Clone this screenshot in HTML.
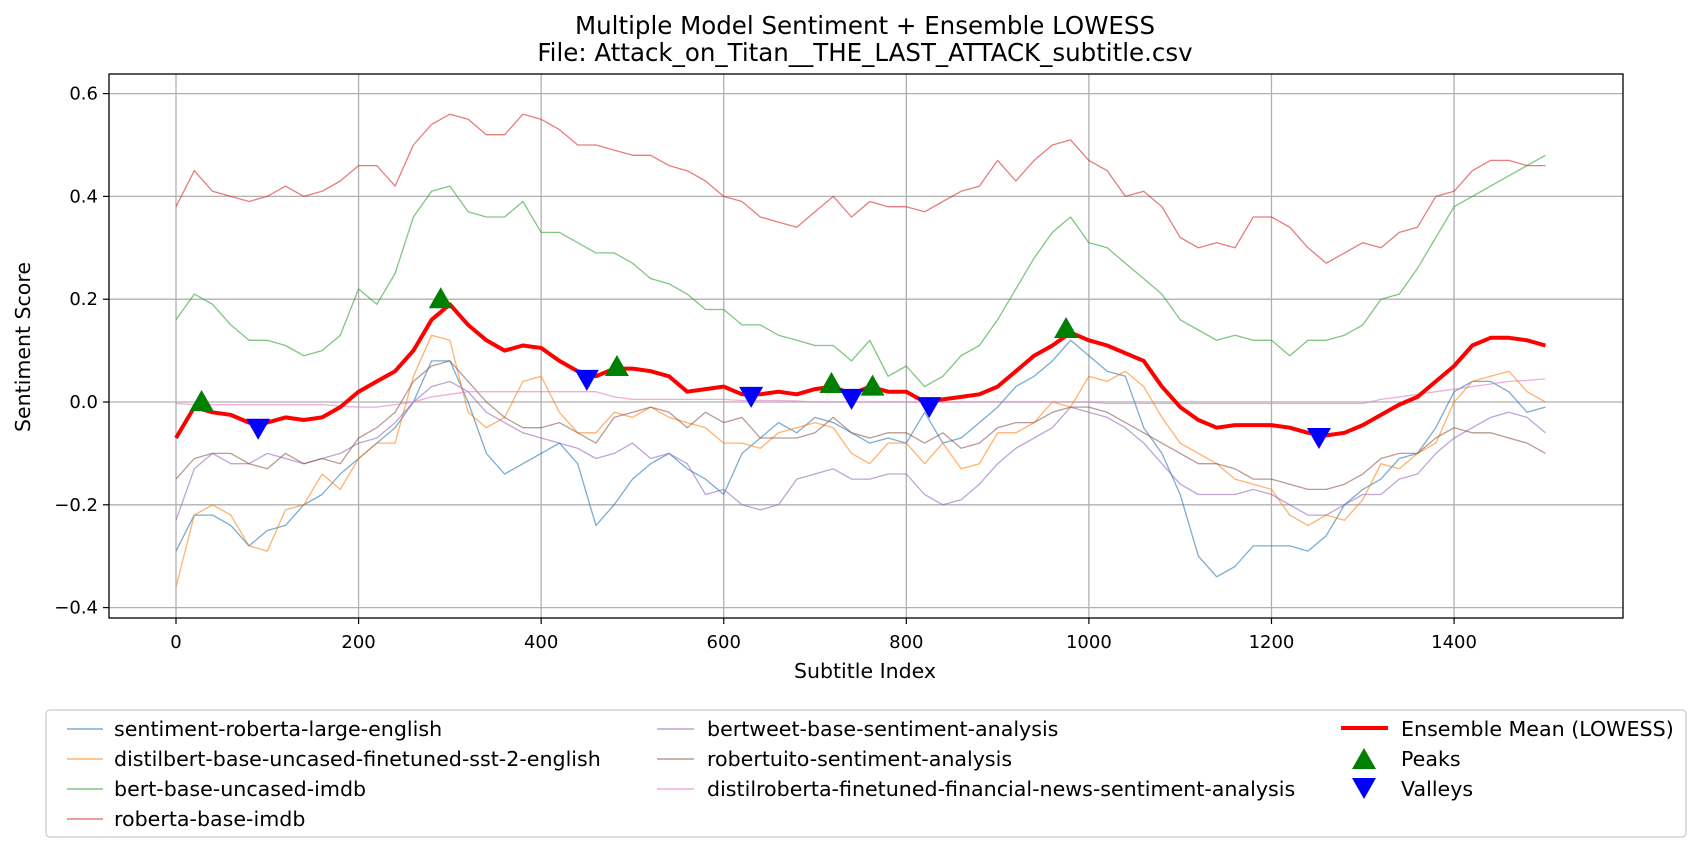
<!DOCTYPE html>
<html><head><meta charset="utf-8">
<style>
html,body{margin:0;padding:0;background:#fff;}
svg{display:block;font-family:"DejaVu Sans","Liberation Sans",sans-serif;}
</style></head>
<body>
<svg id="chart" width="1700" height="853" viewBox="0 0 1700 853" xmlns="http://www.w3.org/2000/svg">
  <text x="865" y="34" font-size="24.5" text-anchor="middle">Multiple Model Sentiment + Ensemble LOWESS</text>
  <text x="865" y="61" font-size="24.5" text-anchor="middle">File: Attack_on_Titan__THE_LAST_ATTACK_subtitle.csv</text>
  <g id="grid"></g>
  <g id="series"></g>
  <g id="markers"></g>
  <rect x="109" y="74" width="1514" height="544" fill="none" stroke="#000" stroke-width="1.3"/>
  <g id="ticks"></g>
  <text x="865" y="678" font-size="20.5" text-anchor="middle">Subtitle Index</text>
  <text x="0" y="0" font-size="20.5" text-anchor="middle" transform="translate(30,347) rotate(-90)">Sentiment Score</text>
  <g>
    <rect x="46" y="710" width="1640" height="127" rx="4" fill="#fff" stroke="#ccc" stroke-width="1.3"/>
    <g font-size="20.6">
      <line x1="67" y1="729" x2="103" y2="729" stroke="#1f77b4" stroke-opacity="0.6" stroke-width="1.5"/>
      <text x="114" y="736">sentiment-roberta-large-english</text>
      <line x1="67" y1="759" x2="103" y2="759" stroke="#ff7f0e" stroke-opacity="0.6" stroke-width="1.5"/>
      <text x="114" y="766">distilbert-base-uncased-finetuned-sst-2-english</text>
      <line x1="67" y1="789" x2="103" y2="789" stroke="#2ca02c" stroke-opacity="0.6" stroke-width="1.5"/>
      <text x="114" y="796">bert-base-uncased-imdb</text>
      <line x1="67" y1="819" x2="103" y2="819" stroke="#d62728" stroke-opacity="0.6" stroke-width="1.5"/>
      <text x="114" y="826">roberta-base-imdb</text>
      <line x1="657" y1="729" x2="694" y2="729" stroke="#9467bd" stroke-opacity="0.6" stroke-width="1.5"/>
      <text x="707" y="736">bertweet-base-sentiment-analysis</text>
      <line x1="657" y1="759" x2="694" y2="759" stroke="#8c564b" stroke-opacity="0.6" stroke-width="1.5"/>
      <text x="707" y="766">robertuito-sentiment-analysis</text>
      <line x1="657" y1="789" x2="694" y2="789" stroke="#e377c2" stroke-opacity="0.6" stroke-width="1.5"/>
      <text x="707" y="796">distilroberta-finetuned-financial-news-sentiment-analysis</text>
      <line x1="1341" y1="728" x2="1388" y2="728" stroke="#ff0000" stroke-width="4"/>
      <text x="1401" y="736">Ensemble Mean (LOWESS)</text>
      <polygon points="1364,748 1376,769 1352,769" fill="#008000"/>
      <text x="1401" y="766">Peaks</text>
      <polygon points="1352,778 1376,778 1364,799" fill="#0000ff"/>
      <text x="1401" y="796">Valleys</text>
    </g>
  </g>
</svg>
<script>
const xStep = 20;
const xTicks = [0, 200, 400, 600, 800, 1000, 1200, 1400];
const yTicks = [-0.4, -0.2, 0.0, 0.2, 0.4, 0.6];
const yTickLabels = ["\u22120.4", "\u22120.2", "0.0", "0.2", "0.4", "0.6"];
const seriesNames = ["roberta-base-imdb","bert-base-uncased-imdb","sentiment-roberta-large-english","distilbert-base-uncased-finetuned-sst-2-english","bertweet-base-sentiment-analysis","robertuito-sentiment-analysis","distilroberta-finetuned-financial-news-sentiment-analysis"];
const robertaImdb = [0.38,0.45,0.41,0.40,0.39,0.40,0.42,0.40,0.41,0.43,0.46,0.46,0.42,0.50,0.54,0.56,0.55,0.52,0.52,0.56,0.55,0.53,0.50,0.50,0.49,0.48,0.48,0.46,0.45,0.43,0.40,0.39,0.36,0.35,0.34,0.37,0.40,0.36,0.39,0.38,0.38,0.37,0.39,0.41,0.42,0.47,0.43,0.47,0.50,0.51,0.47,0.45,0.40,0.41,0.38,0.32,0.30,0.31,0.30,0.36,0.36,0.34,0.30,0.27,0.29,0.31,0.30,0.33,0.34,0.40,0.41,0.45,0.47,0.47,0.46,0.46];
const bertImdb = [0.16,0.21,0.19,0.15,0.12,0.12,0.11,0.09,0.10,0.13,0.22,0.19,0.25,0.36,0.41,0.42,0.37,0.36,0.36,0.39,0.33,0.33,0.31,0.29,0.29,0.27,0.24,0.23,0.21,0.18,0.18,0.15,0.15,0.13,0.12,0.11,0.11,0.08,0.12,0.05,0.07,0.03,0.05,0.09,0.11,0.16,0.22,0.28,0.33,0.36,0.31,0.30,0.27,0.24,0.21,0.16,0.14,0.12,0.13,0.12,0.12,0.09,0.12,0.12,0.13,0.15,0.20,0.21,0.26,0.32,0.38,0.40,0.42,0.44,0.46,0.48];
const robertaLarge = [-0.29,-0.22,-0.22,-0.24,-0.28,-0.25,-0.24,-0.20,-0.18,-0.14,-0.11,-0.08,-0.05,0.0,0.08,0.08,0.0,-0.10,-0.14,-0.12,-0.10,-0.08,-0.12,-0.24,-0.20,-0.15,-0.12,-0.10,-0.13,-0.15,-0.18,-0.10,-0.07,-0.04,-0.06,-0.03,-0.04,-0.06,-0.08,-0.07,-0.08,-0.02,-0.08,-0.07,-0.04,-0.01,0.03,0.05,0.08,0.12,0.09,0.06,0.05,-0.05,-0.10,-0.18,-0.30,-0.34,-0.32,-0.28,-0.28,-0.28,-0.29,-0.26,-0.20,-0.17,-0.15,-0.11,-0.10,-0.05,0.02,0.04,0.04,0.02,-0.02,-0.01];
const distilbert = [-0.36,-0.22,-0.20,-0.22,-0.28,-0.29,-0.21,-0.20,-0.14,-0.17,-0.11,-0.08,-0.08,0.05,0.13,0.12,-0.02,-0.05,-0.03,0.04,0.05,-0.02,-0.06,-0.06,-0.02,-0.03,-0.01,-0.03,-0.04,-0.05,-0.08,-0.08,-0.09,-0.06,-0.05,-0.04,-0.05,-0.10,-0.12,-0.08,-0.08,-0.12,-0.08,-0.13,-0.12,-0.06,-0.06,-0.04,0.0,-0.01,0.05,0.04,0.06,0.03,-0.03,-0.08,-0.10,-0.12,-0.15,-0.16,-0.17,-0.22,-0.24,-0.22,-0.23,-0.19,-0.12,-0.13,-0.10,-0.08,0.0,0.04,0.05,0.06,0.02,0.0];
const bertweet = [-0.23,-0.13,-0.10,-0.12,-0.12,-0.10,-0.11,-0.12,-0.11,-0.10,-0.08,-0.07,-0.04,0.0,0.03,0.04,0.02,-0.02,-0.04,-0.06,-0.07,-0.08,-0.09,-0.11,-0.10,-0.08,-0.11,-0.10,-0.12,-0.18,-0.17,-0.20,-0.21,-0.20,-0.15,-0.14,-0.13,-0.15,-0.15,-0.14,-0.14,-0.18,-0.20,-0.19,-0.16,-0.12,-0.09,-0.07,-0.05,-0.01,-0.02,-0.03,-0.05,-0.08,-0.12,-0.16,-0.18,-0.18,-0.18,-0.17,-0.18,-0.20,-0.22,-0.22,-0.20,-0.18,-0.18,-0.15,-0.14,-0.10,-0.07,-0.05,-0.03,-0.02,-0.03,-0.06];
const robertuito = [-0.15,-0.11,-0.10,-0.10,-0.12,-0.13,-0.10,-0.12,-0.11,-0.12,-0.07,-0.05,-0.02,0.04,0.07,0.08,0.04,0.0,-0.03,-0.05,-0.05,-0.04,-0.06,-0.08,-0.03,-0.02,-0.01,-0.02,-0.05,-0.02,-0.04,-0.03,-0.07,-0.07,-0.07,-0.06,-0.03,-0.06,-0.07,-0.06,-0.06,-0.08,-0.06,-0.09,-0.08,-0.05,-0.04,-0.04,-0.02,-0.01,-0.01,-0.02,-0.04,-0.06,-0.08,-0.10,-0.12,-0.12,-0.13,-0.15,-0.15,-0.16,-0.17,-0.17,-0.16,-0.14,-0.11,-0.10,-0.10,-0.07,-0.05,-0.06,-0.06,-0.07,-0.08,-0.10];
const financial = [-0.003,-0.005,-0.005,-0.005,-0.005,-0.005,-0.005,-0.005,-0.005,-0.008,-0.01,-0.01,-0.005,0.0,0.01,0.015,0.02,0.02,0.02,0.02,0.02,0.02,0.02,0.02,0.01,0.005,0.005,0.005,0.005,0.005,0.005,0.003,0.003,0.003,0.002,0.0,0.0,0.0,0.0,0.0,0.0,0.0,0.0,0.0,0.0,0.0,0.0,0.0,0.0,0.0,0.0,-0.003,-0.003,-0.003,-0.003,-0.003,-0.003,-0.003,-0.003,-0.003,-0.003,-0.003,-0.003,-0.003,-0.003,-0.003,0.005,0.01,0.015,0.02,0.025,0.03,0.035,0.04,0.042,0.045];
const ensemble = [-0.07,-0.01,-0.02,-0.025,-0.04,-0.04,-0.03,-0.035,-0.03,-0.01,0.02,0.04,0.06,0.1,0.16,0.19,0.15,0.12,0.1,0.11,0.105,0.08,0.06,0.05,0.065,0.065,0.06,0.05,0.02,0.025,0.03,0.015,0.015,0.02,0.015,0.025,0.03,0.015,0.03,0.02,0.02,0.0,0.005,0.01,0.015,0.03,0.06,0.09,0.11,0.135,0.12,0.11,0.095,0.08,0.03,-0.01,-0.035,-0.05,-0.045,-0.045,-0.045,-0.05,-0.06,-0.065,-0.06,-0.045,-0.025,-0.005,0.01,0.04,0.07,0.11,0.125,0.125,0.12,0.11];
const peaksX = [28, 290, 483, 718, 763, 975];
const peaksY = [0.0, 0.2, 0.068, 0.035, 0.03, 0.142];
const valleysX = [90, 450, 630, 740, 825, 1252];
const valleysY = [-0.05, 0.045, 0.012, 0.008, -0.008, -0.068];

const NS = "http://www.w3.org/2000/svg";
const X0 = 176, XS = 0.9129, Y0 = 402, YS = 514;
function xScale(v){ return X0 + v * XS; }
function yScale(v){ return Y0 - v * YS; }
function mk(tag, attrs, parent){
  const e = document.createElementNS(NS, tag);
  for (const k in attrs) e.setAttribute(k, attrs[k]);
  parent.appendChild(e);
  return e;
}
const grid = document.getElementById('grid');
const ticks = document.getElementById('ticks');
xTicks.forEach(t => {
  const gx = mk('line', {x1:xScale(t), x2:xScale(t), y1:74, y2:618, stroke:'#b0b0b0', 'stroke-width':1.3}, grid);
  
  
  mk('line', {x1:xScale(t), x2:xScale(t), y1:618, y2:624, stroke:'#000', 'stroke-width':1.2}, ticks);
  const lb = mk('text', {x:xScale(t), y:648, 'font-size':18, 'text-anchor':'middle'}, ticks);
  lb.textContent = String(t);
  
  
});
yTicks.forEach((t, i) => {
  const gy = mk('line', {x1:109, x2:1623, y1:yScale(t), y2:yScale(t), stroke:'#b0b0b0', 'stroke-width':1.3}, grid);
  
  
  mk('line', {x1:103, x2:109, y1:yScale(t), y2:yScale(t), stroke:'#000', 'stroke-width':1.2}, ticks);
  const lb = mk('text', {x:98, y:yScale(t)+6, 'font-size':18, 'text-anchor':'end'}, ticks);
  lb.textContent = yTickLabels[i];
  
  
});
const seriesLayer = document.getElementById('series');
function drawLine(vals, color, width, opacity, name){
  const pts = vals.map((v, i) => xScale(i * xStep).toFixed(1) + ',' + yScale(v).toFixed(1)).join(' ');
  const p = mk('polyline', {points:pts, fill:'none', stroke:color, 'stroke-width':width, 'stroke-opacity':opacity, 'stroke-linejoin':'round'}, seriesLayer);
  
  
}
drawLine(robertaLarge, '#1f77b4', 1.3, 0.6, 'line-roberta-large');
drawLine(distilbert, '#ff7f0e', 1.3, 0.6, 'line-distilbert');
drawLine(bertImdb, '#2ca02c', 1.3, 0.6, 'line-bert-imdb');
drawLine(robertaImdb, '#d62728', 1.3, 0.6, 'line-roberta-imdb');
drawLine(bertweet, '#9467bd', 1.3, 0.6, 'line-bertweet');
drawLine(robertuito, '#8c564b', 1.3, 0.6, 'line-robertuito');
drawLine(financial, '#e377c2', 1.3, 0.6, 'line-distilroberta-financial');
drawLine(ensemble, '#ff0000', 4, 1, 'line-ensemble-lowess');
const markers = document.getElementById('markers');
peaksX.forEach((px, i) => {
  const cx = xScale(px), cy = yScale(peaksY[i]);
  const m = mk('polygon', {points:`${cx},${cy-12} ${cx+12},${cy+9} ${cx-12},${cy+9}`, fill:'#008000'}, markers);
  
  
});
valleysX.forEach((vx, i) => {
  const cx = xScale(vx), cy = yScale(valleysY[i]);
  const m = mk('polygon', {points:`${cx-12},${cy-9} ${cx+12},${cy-9} ${cx},${cy+12}`, fill:'#0000ff'}, markers);
  
  
});
</script>
</body></html>
